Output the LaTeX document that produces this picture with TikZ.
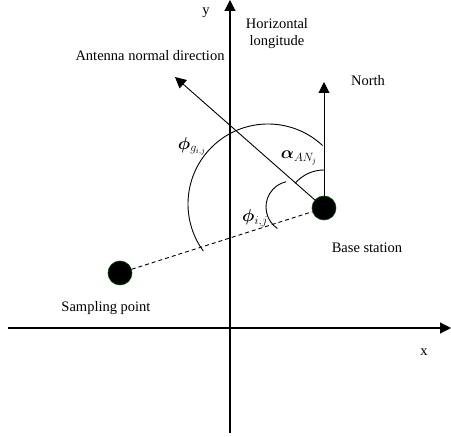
\documentclass[tikz,border=0pt]{standalone}
\usepackage{fontspec}
\setmainfont{Liberation Serif}
\usepackage{amsmath}
\usepackage{bm}
\usetikzlibrary{arrows.meta}

\begin{document}
\begin{tikzpicture}[
    x=1pt, y=1pt,
    >={Triangle[length=11pt,width=11pt]},
    axis/.style={line width=1.1pt, ->},
    vec/.style={line width=0.9pt, ->},
    dot/.style={circle, fill=black, draw=green!30!black, line width=0.6pt, minimum size=24pt, inner sep=0pt},
    lbl/.style={font=\fontsize{14.5}{17}\selectfont, inner sep=0pt, align=center},
    ang/.style={font=\fontsize{17}{19}\selectfont, inner sep=0pt}
]
\useasboundingbox (0,0) rectangle (451,437);

% axes
\coordinate (xl) at (8,109);
\coordinate (xr) at (451,109);
\coordinate (yb) at (230,4);
\coordinate (yt) at (230,437);
\draw[axis] (xl) -- (xr);
\draw[axis] (yb) -- (yt);

% stations
\node[dot] (bs) at (324,229) {};
\node[dot] (sp) at (120,164) {};
\coordinate (north) at (324,355);
\coordinate (antenna) at (175,360);

\draw[vec] (bs) -- (north);
\draw[vec] (bs) -- (antenna);
\draw[line width=0.9pt, dash pattern=on 4pt off 3pt] (sp) -- (bs);

% angles
\draw[line width=0.9pt] ([shift={(47:80)}]268,233) arc[start angle=47, end angle=216, radius=80];
\draw[line width=0.9pt] ([shift={(103.5:26)}]292,230) arc[start angle=103.5, end angle=235.7, radius=26];
\draw[line width=0.9pt] ([shift={(90:38)}]324,229) arc[start angle=90, end angle=139, radius=38];

% labels
\node[lbl] (ylbl) at (206,424) {y};
\node[lbl] (xlbl) at (424,85) {x};
\node[lbl] (horiz) at (277,403) {Horizontal\\longitude};
\node[lbl] (antlbl) at (150,381) {Antenna normal direction};
\node[lbl] (northlbl) at (368,356) {North};
\node[lbl] (bslbl) at (367,189) {Base station};
\node[lbl] (splbl) at (106,129) {Sampling point};
\node[ang] (phig) at (192,291) {$\bm{\phi}_{g_{i,j}}$};
\node[ang] (alpha) at (299,279) {$\bm{\alpha}_{AN_j}$};
\node[ang] (phiij) at (255,219) {$\bm{\phi}_{i,j}$};

\end{tikzpicture}
\end{document}
